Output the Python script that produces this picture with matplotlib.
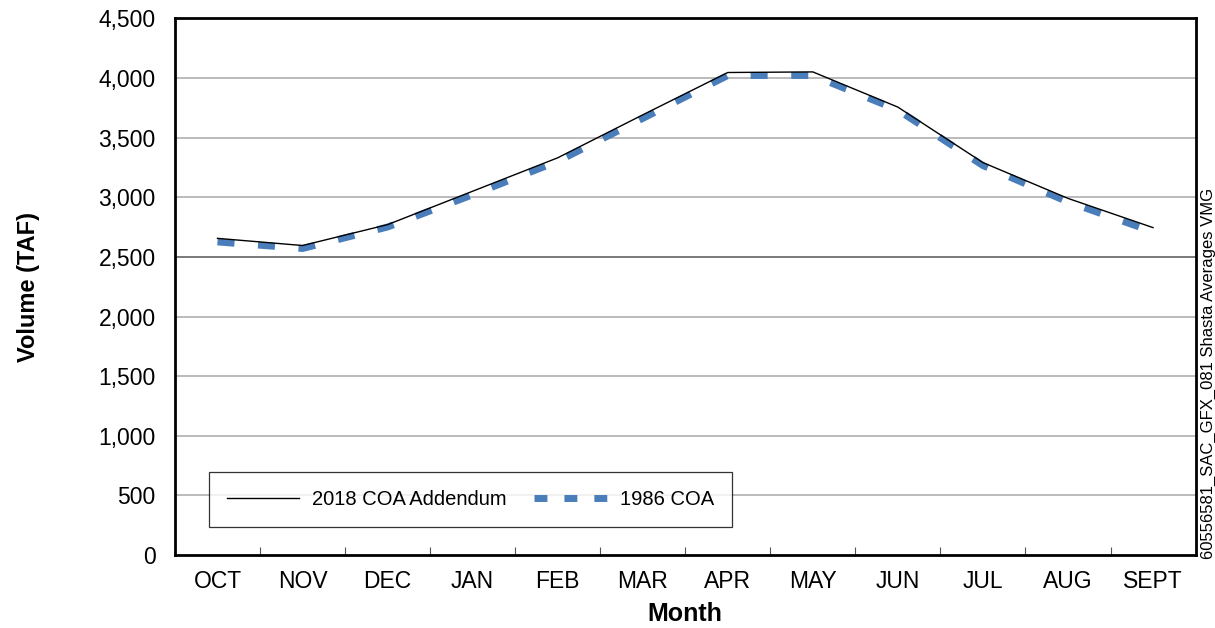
import matplotlib
matplotlib.use("Agg")
import matplotlib.pyplot as plt
from matplotlib.lines import Line2D
import numpy as np

plt.rcParams['font.family'] = ['Liberation Sans', 'DejaVu Sans']

months = ["OCT", "NOV", "DEC", "JAN", "FEB", "MAR", "APR", "MAY", "JUN", "JUL", "AUG", "SEPT"]
coa_2018 = [2655, 2595, 2770, 3050, 3330, 3690, 4045, 4050, 3755, 3290, 2990, 2745]
coa_1986 = [2625, 2570, 2750, 3020, 3300, 3660, 4020, 4020, 3730, 3265, 2960, 2710]
yticks = [0, 500, 1000, 1500, 2000, 2500, 3000, 3500, 4000, 4500]
ytick_labels = ["0", "500", "1,000", "1,500", "2,000", "2,500", "3,000", "3,500", "4,000", "4,500"]

BLUE = '#4a7ebb'

fig = plt.figure(figsize=(12.15, 6.28), dpi=100)
ax = fig.add_axes([0.144, 0.116, 0.840, 0.855])

x = np.arange(len(months))
ax.set_xlim(-0.5, len(months) - 0.5)
ax.set_ylim(0, 4500)

for v in yticks[1:-1]:
    ax.axhline(v, color='#555555' if v == 2500 else '#a8a8a8', lw=1.1, zorder=1)

ax.plot(x, coa_1986, color=BLUE, lw=5.0, linestyle=(0, (2.45, 3.4)),
        solid_capstyle='butt', dash_capstyle='butt', zorder=2)
ax.plot(x, coa_2018, color='black', lw=1.0, zorder=3)

ax.set_xticks(x)
ax.set_xticklabels(months, fontsize=16.5)
ax.set_xticks(np.arange(len(months) + 1) - 0.5, minor=True)
ax.tick_params(axis='x', which='major', length=0, pad=11)
ax.tick_params(axis='x', which='minor', direction='in', length=6, width=0.8, color='#555555')
ax.set_yticks(yticks)
ax.set_yticklabels(ytick_labels, fontsize=16.5)
ax.tick_params(axis='y', length=0, pad=14)

for s in ax.spines.values():
    s.set_linewidth(2.0)
    s.set_color('black')

ax.set_xlabel("Month", fontsize=18, fontweight='bold', labelpad=6)
ax.set_ylabel("Volume (TAF)", fontsize=17, fontweight='bold', labelpad=42)

handles = [Line2D([], [], color='black', lw=1.0),
           Line2D([], [], color=BLUE, lw=5.0, linestyle=(0, (1.86, 2.45)), dash_capstyle='butt')]
leg = ax.legend(handles, ["2018 COA Addendum", "1986 COA"], ncol=2, loc='lower left',
                bbox_to_anchor=(0.033, 0.052),
                fontsize=14.5, frameon=True, fancybox=False, edgecolor='black',
                handlelength=3.6, handletextpad=0.65, columnspacing=1.35,
                borderaxespad=0, borderpad=0.9)
leg.get_frame().set_linewidth(0.9)

fig.text(0.9945, 0.405, "60556581_SAC_GFX_081 Shasta Averages VMG", rotation=90,
         fontsize=12, ha='center', va='center')

fig.savefig("out.png", dpi=100)
